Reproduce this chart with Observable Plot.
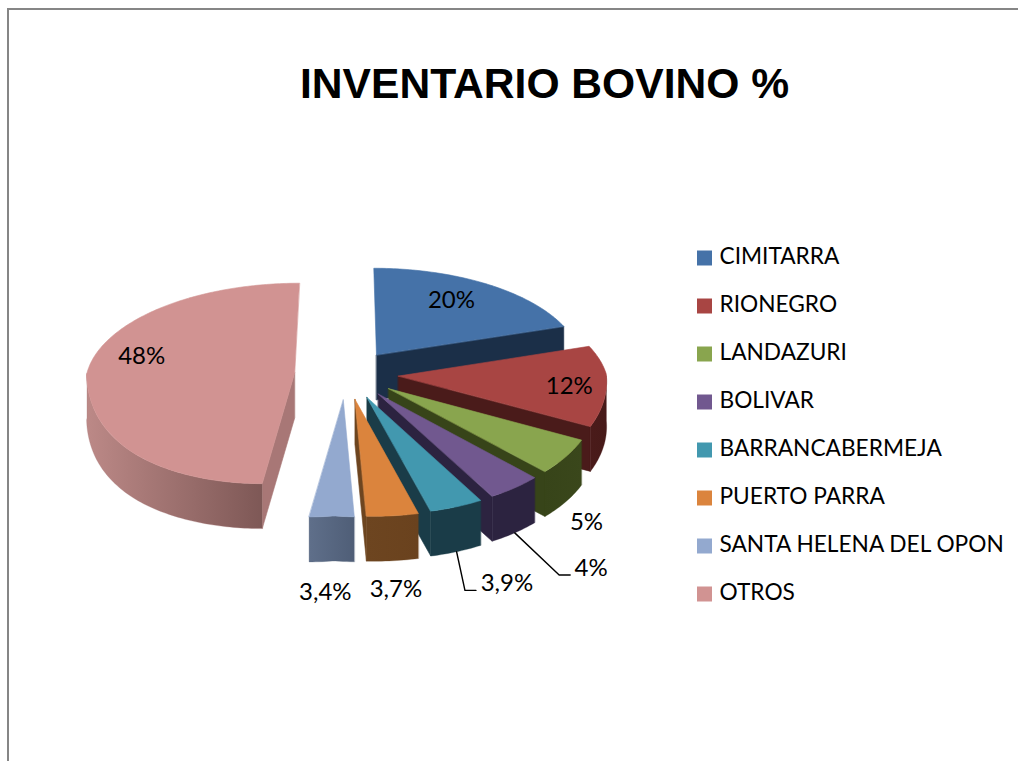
<!DOCTYPE html>
<html><head><meta charset="utf-8">
<script src="https://cdn.jsdelivr.net/npm/d3@7"></script>
<script src="https://cdn.jsdelivr.net/npm/@observablehq/plot@0.6"></script>
<style>
html,body{margin:0;background:#fff;overflow:hidden}
#page{position:relative;width:1018px;height:761px;overflow:hidden}
#frame{position:absolute;left:7px;top:8px;width:1030px;height:780px;border-left:2px solid #868686;border-top:2px solid #868686;box-sizing:border-box;pointer-events:none}
#title{height:130px;box-sizing:border-box;padding-top:56px;padding-left:300px;font:bold 42.6px/54px "Liberation Sans",Arial,sans-serif;color:#000;white-space:nowrap}
#row{display:flex}
#row svg{display:block;background:none}
</style></head>
<body><div id="page"><div id="frame"></div><div id="title">INVENTARIO BOVINO %</div><div id="row"></div></div>
<script>
const categories = ["CIMITARRA","RIONEGRO","LANDAZURI","BOLIVAR","BARRANCABERMEJA","PUERTO PARRA","SANTA HELENA DEL OPON","OTROS"];
const values = [20,12,5,4,3.9,3.7,3.4,48];
const valueLabels = ["20%","12%","5%","4%","3,9%","3,7%","3,4%","48%"];
const topColors = ["#4572a8","#a84543","#89a54e","#71588f","#4298af","#db843d","#93a9cf","#d19392"];
const cutColors = ["#1b2f48","#4a1b1a","#374419","#2c2340","#1a3c48","#6d4520","#4f5e77","#a87776"];
const wallFrom  = ["#1b2f48","#4a1b1a","#374419","#2c2340","#1a3c48","#6d4520","#5f6f8a","#bc8987"];
const wallTo    = ["#1b2f48","#471a19","#3a471b","#2c2340","#1a3c48","#6a421e","#4f5e77","#7e5856"];
// label placement: offset from each slice's tip
const labelOffset = [[75,-55],[171,10],[198,134],[213,174],[140,186],[41,190],[-18,192],[-153,-17]];
const fontFam = "Lato, Carlito, Calibri, sans-serif";

const Cx=346, Cy=374, Rx=208, Ry=99, k=.1, explode=.25, depth=45, skew=9;
const rad=Math.PI/180;
function proj(a,r,m,z=0){
  const X=explode*Math.sin(m)+r*Math.sin(a), v=-explode*Math.cos(m)-r*Math.cos(a);
  const front=r*Math.max(0,-Math.cos(a))*Math.abs(Math.sin(a))*2; // rim sag of the front half
  const sx=v<0?1/(1-k*v):1; // the back of the pie narrows with distance
  return {
    x:Cx+Rx*X*sx-skew*Math.max(0,v)*Math.max(0,1-Math.abs(X)/1.1)+(Math.sin(a)>0?5*front:-8*front*front),
    y:Cy+Ry*v/(1-k*v)+8*front+z*depth
  };
}
const arcs=d3.pie().sort(null)(values);
const wedges=arcs.map((d,i)=>({i,name:categories[i],s:d.startAngle,e:d.endAngle,m:(d.startAngle+d.endAngle)/2}));
function arcPts(w,a0,a1,z){const n=Math.max(2,Math.ceil(Math.abs(a1-a0)/rad));return d3.range(n+1).map(j=>proj(a0+(a1-a0)*j/n,1,w.m,z));}
const poly=(pts,fill,extra={})=>Plot.line(pts,{x:"x",y:"y",fill,stroke:fill,strokeWidth:.6,curve:"linear-closed",...extra});
const order=[0,7,1,2,3,4,5,6];
const marks=[];
marks.push(()=>{
  const defs=d3.create("svg:defs");
  wedges.forEach(w=>{const g=defs.append("linearGradient").attr("id","wall"+w.i);
    g.append("stop").attr("offset",0).attr("stop-color",wallFrom[w.i]);
    g.append("stop").attr("offset",1).attr("stop-color",wallTo[w.i]);});
  return defs.node();
});
for(const i of order){
  const w=wedges[i];
  const cutAngle = w.e<Math.PI ? w.e : (w.s>Math.PI ? w.s : null);
  if(cutAngle!==null){
    const c=proj(0,0,w.m,0),c2=proj(0,0,w.m,1),p=proj(cutAngle,1,w.m,0),p2=proj(cutAngle,1,w.m,1);
    marks.push(poly([c,p,p2,c2],cutColors[i]));
  }
  const a0=Math.max(w.s,Math.PI/2), a1=Math.min(w.e,1.5*Math.PI);
  if(a1>a0){
    const topE=arcPts(w,a0,a1,0), botE=arcPts(w,a0,a1,1).reverse();
    marks.push(poly([...topE,...botE],`url(#wall${i})`,{stroke:cutColors[i],strokeWidth:.3}));
  }
  marks.push(poly([proj(0,0,w.m,0),...arcPts(w,w.s,w.e,0)],topColors[i]));
}
const labels=wedges.map(w=>{const tip=proj(0,0,w.m,0),[dx,dy]=labelOffset[w.i];return {x:tip.x+dx,y:tip.y+dy,t:valueLabels[w.i],i:w.i};});
// leader lines for the two labels that sit away from their slices
const leaders=[3,4].flatMap(i=>{
  const w=wedges[i],base=proj(w.m,1,w.m,1),l=labels[i],end=i===3?-21:-31;
  return [{...base,i},{x:l.x+end-11,y:l.y+7,i},{x:l.x+end,y:l.y+7,i}];
});
marks.push(Plot.line(leaders,{x:"x",y:"y",z:"i",stroke:"#000",strokeWidth:1.4}));
marks.push(Plot.text(labels,{x:"x",y:"y",text:"t",fontSize:24,fontFamily:fontFam,fill:"#000"}));

const pie=Plot.plot({width:690,height:631,margin:0,style:{background:"none",overflow:"visible"},
  x:{domain:[0,690],range:[0,690],axis:null},y:{domain:[130,761],range:[0,631],axis:null},marks});
const legend=Plot.plot({width:328,height:631,margin:0,style:{background:"none"},
  x:{domain:[0,328],range:[0,328],axis:null},
  y:{type:"point",domain:categories,range:[125,463],padding:0,axis:null},
  color:{domain:categories,range:topColors},
  marks:[
    Plot.dot(categories,{x:()=>14,y:d=>d,dy:1.5,r:8.46,symbol:"square",fill:d=>d}),
    Plot.text(categories,{x:()=>29,y:d=>d,text:d=>d,textAnchor:"start",fontSize:22.7,fontFamily:fontFam,fill:"#000"})
  ]});
document.getElementById("row").append(pie,legend);
</script></body></html>
